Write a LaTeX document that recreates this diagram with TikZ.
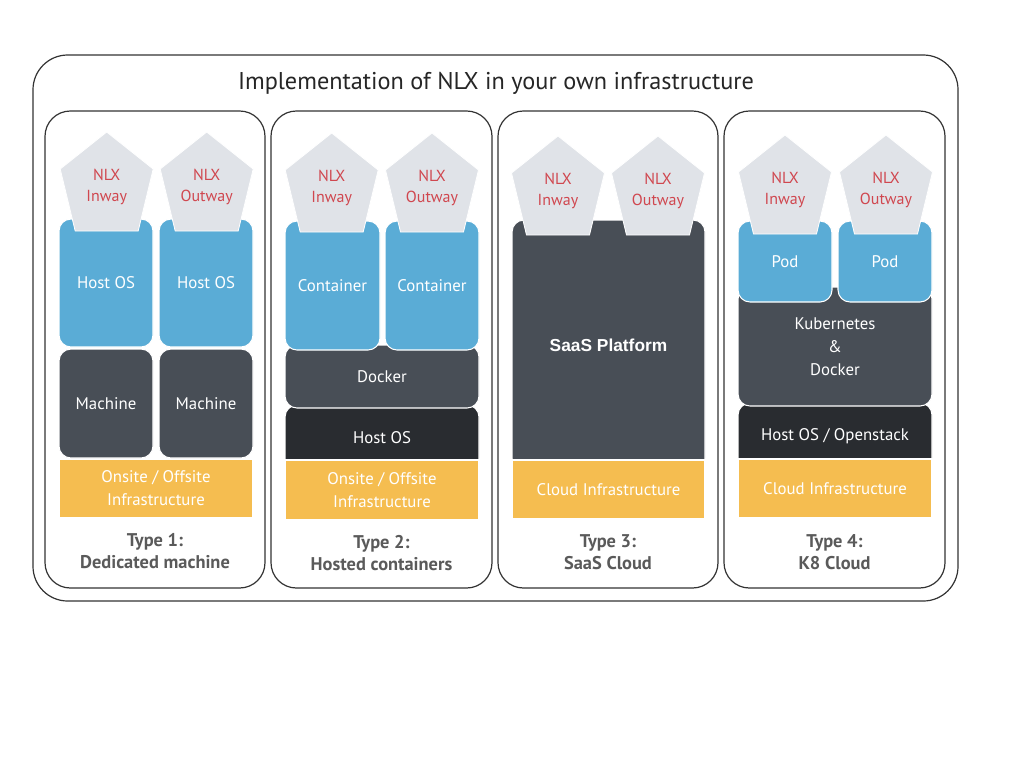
\documentclass[tikz,border=0pt]{standalone}
\usepackage{fontspec}
\setmainfont{PT Sans}
\newfontfamily\saasfont{Liberation Sans}
\definecolor{nlxblue}{HTML}{5AACD6}
\definecolor{nlxdark}{HTML}{484E56}
\definecolor{nlxdarker}{HTML}{292C30}
\definecolor{nlxorange}{HTML}{F5BD50}
\definecolor{pentgray}{HTML}{E0E3E8}
\definecolor{nlxred}{HTML}{D0474F}
\definecolor{typegray}{HTML}{5A5A5A}
\definecolor{framecol}{HTML}{333333}
\newcommand\mybox[7]{%
  \pgfmathsetmacro\bw{(#4-#2)*0.75}%
  \pgfmathsetmacro\bh{(#5-#3)*0.75}%
  \node[#6, minimum width=\bw pt, minimum height=\bh pt] (#1) at ({(#2+#4)/2},{(#3+#5)/2}) {#7};}
\newcommand\pent[4]{%
  \draw[pentstyle] (#2,#3) -- ({#2+46.5},{#3+37}) -- ({#2+31.5},{#3+99}) -- ({#2-31.5},{#3+99}) -- ({#2-46.5},{#3+37}) -- cycle;
  \node[nlxtext] (#1) at (#2,{#3+55}) {#4};}
\begin{document}
\begin{tikzpicture}[x=0.75pt,y=-0.75pt,
  frame/.style={draw=framecol, line width=0.9pt, fill=white, inner sep=0pt},
  outerframe/.style={frame, rounded corners=26pt},
  colframe/.style={frame, rounded corners=19pt},
  box/.style={draw=white, line width=0.8pt, rounded corners=9pt, inner sep=0pt, text=white, align=center, font=\fontsize{12.6}{17.3}\selectfont},
  bluebox/.style={box, fill=nlxblue},
  darkbox/.style={box, fill=nlxdark},
  darkerbox/.style={box, fill=nlxdarker},
  orangebox/.style={box, fill=nlxorange, rounded corners=0pt},
  pentstyle/.style={fill=pentgray, draw=white, line width=0.6pt},
  nlxtext/.style={text=nlxred, align=center, font=\fontsize{12}{15.75}\selectfont},
  typetext/.style={text=typegray, align=center, font=\bfseries\fontsize{13.8}{16.5}\selectfont},
  titletext/.style={text=black!85, font=\fontsize{18.2}{21}\selectfont}]
\useasboundingbox (0,0) rectangle (1024,768);
\fill[white] (0,0) rectangle (1024,768);
% outer frame
\mybox{outer}{33}{55}{958}{601}{outerframe}{}
\node[titletext] (title) at (496,83) {Implementation of NLX in your own infrastructure};
% column frames
\mybox{c1}{45}{111}{265}{588}{colframe}{}
\mybox{c2}{271}{111}{492}{588}{colframe}{}
\mybox{c3}{498}{111}{718}{588}{colframe}{}
\mybox{c4}{724}{111}{945}{588}{colframe}{}
% ---- column 1
\mybox{inf1}{59}{459}{253}{518}{orangebox}{Onsite / Offsite\\Infrastructure}
\mybox{m1}{59}{349}{153}{458}{darkbox}{Machine}
\mybox{m2}{159}{349}{253}{458}{darkbox}{Machine}
\mybox{h1}{59}{219}{153}{347}{bluebox}{Host OS}
\mybox{h2}{159}{219}{253}{347}{bluebox}{Host OS}
\pent{in1}{106.7}{132}{NLX\\Inway}
\pent{out1}{206.7}{132}{NLX\\Outway}
\node[typetext] (t1) at (155,551) {Type 1:\\Dedicated machine};
% ---- column 2
\mybox{hos2}{285}{405}{479}{470}{darkerbox}{Host OS}
\mybox{inf2}{285}{460}{479}{520}{orangebox}{Onsite / Offsite\\Infrastructure}
\mybox{dock2}{285}{345}{479}{408}{darkbox}{Docker}
\mybox{ct1}{285}{221}{380}{350}{bluebox}{Container}
\mybox{ct2}{385}{221}{479}{350}{bluebox}{Container}
\pent{in2}{331.7}{133}{NLX\\Inway}
\pent{out2}{432}{133}{NLX\\Outway}
\node[typetext] (t2) at (381.5,553) {Type 2:\\Hosted containers};
% ---- column 3
\mybox{saas}{512}{220}{705}{470}{darkbox}{\saasfont\bfseries\fontsize{13}{15}\selectfont SaaS Platform}
\mybox{inf3}{512}{460}{705}{519}{orangebox}{Cloud Infrastructure}
\pent{in3}{558}{136}{NLX\\Inway}
\pent{out3}{658}{136}{NLX\\Outway}
\node[typetext] (t3) at (608,552) {Type 3:\\SaaS Cloud};
% ---- column 4
\mybox{hos4}{738}{403}{932}{470}{darkerbox}{Host OS / Openstack}
\mybox{inf4}{738}{459}{932}{518}{orangebox}{Cloud Infrastructure}
\mybox{kube}{738}{287}{932}{406}{darkbox}{Kubernetes\\\&\\Docker}
\mybox{pod1}{738}{221}{832}{302}{bluebox}{Pod}
\mybox{pod2}{838}{221}{932}{302}{bluebox}{Pod}
\pent{in4}{785}{135}{NLX\\Inway}
\pent{out4}{886}{135}{NLX\\Outway}
\node[typetext] (t4) at (834.5,552) {Type 4:\\K8 Cloud};
\end{tikzpicture}
\end{document}
